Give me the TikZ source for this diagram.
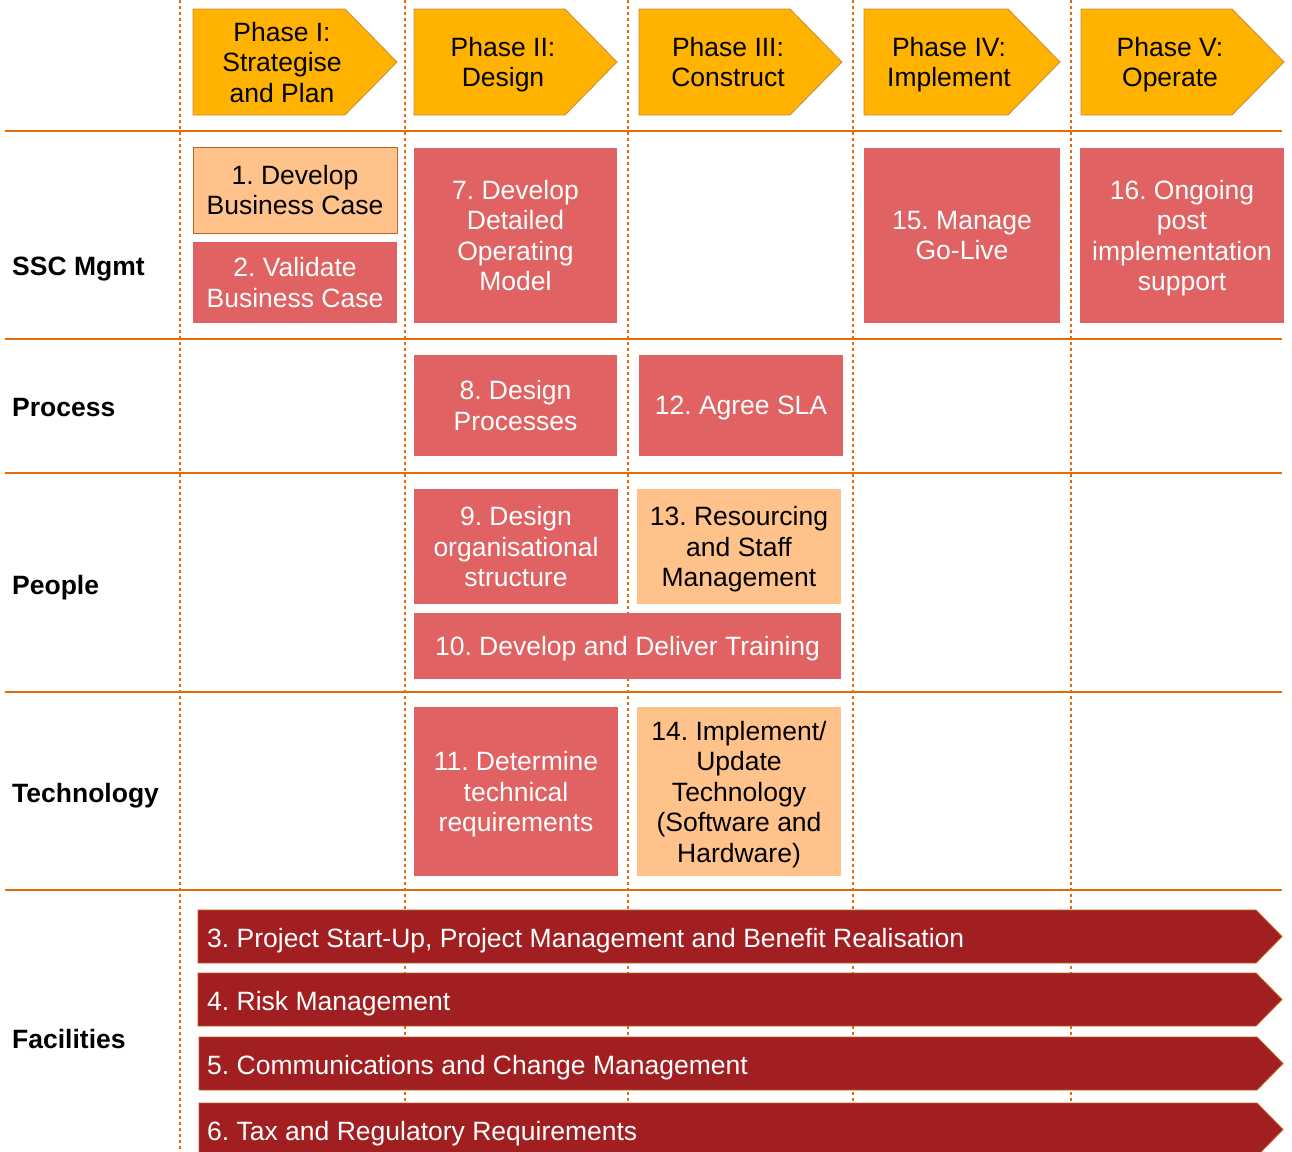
\documentclass[tikz,border=0pt]{standalone}
\usepackage{fontspec}
\setmainfont{Liberation Sans}
\frenchspacing

\definecolor{lineorange}{HTML}{E36C0A}
\definecolor{phasegold}{HTML}{FFB300}
\definecolor{phaseedge}{HTML}{C98A3A}
\definecolor{taskred}{HTML}{E06262}
\definecolor{tasklight}{HTML}{FFC28A}
\definecolor{lightedge}{HTML}{B8651E}
\definecolor{streamred}{HTML}{A11F21}
\definecolor{streamedge}{HTML}{C0601A}

\newcommand{\bodyfont}{\fontsize{26.5}{30.5}\selectfont}

\tikzset{
  grid line/.style={draw=lineorange, line width=2pt},
  phase line/.style={draw=lineorange, line width=2.5pt, dash pattern=on 3pt off 3pt},
  phase arrow/.style={fill=phasegold, draw=phaseedge, line width=0.8pt},
  phase text/.style={align=center, text=black, text depth=0pt, font=\bodyfont},
  task/.style={align=center, inner sep=0pt, text depth=0pt, font=\bodyfont, text=white, fill=taskred},
  subtask/.style={task, fill=tasklight, text=black},
  stream/.style={fill=streamred, draw=streamedge, line width=0.8pt},
  stream text/.style={anchor=west, inner sep=0pt, text depth=0pt, text=white, font=\bodyfont},
  row label/.style={anchor=west, inner sep=0pt, text depth=0pt, font=\bodyfont\bfseries},
}

\begin{document}
\begin{tikzpicture}[x=1pt, y=-1pt]
\useasboundingbox (0,0) rectangle (1292,1151);
\clip (0,0) rectangle (1292,1151);

% phase separators and row rules
\foreach \x in {180,405,628,853,1071}
  \draw[phase line] (\x,0) -- (\x,1151);
\foreach \y in {131,339,473,692,890}
  \draw[grid line] (5,\y) -- (1282,\y);

% phase headers
\draw[phase arrow] (193,9) -- (345,9) -- (397,62) -- (345,115) -- (193,115) -- cycle;
\node[phase text] (ph1) at (282,62) {Phase I:\\Strategise\\and Plan};
\draw[phase arrow] (414,9) -- (565,9) -- (617,62) -- (565,115) -- (414,115) -- cycle;
\node[phase text] (ph2) at (503,62) {Phase II:\\Design};
\draw[phase arrow] (639,9) -- (790,9) -- (842,62) -- (790,115) -- (639,115) -- cycle;
\node[phase text] (ph3) at (728,62) {Phase III:\\Construct};
\draw[phase arrow] (864,9) -- (1008,9) -- (1060,62) -- (1008,115) -- (864,115) -- cycle;
\node[phase text] (ph4) at (949,62) {Phase IV:\\Implement};
\draw[phase arrow] (1081,9) -- (1232,9) -- (1284,62) -- (1232,115) -- (1081,115) -- cycle;
\node[phase text] (ph5) at (1170,62) {Phase V:\\Operate};

% row labels
\node[row label] (ssc) at (12,266) {SSC Mgmt};
\node[row label] (process) at (12,407) {Process};
\node[row label] (people) at (12,585) {People};
\node[row label] (tech) at (12,793) {Technology};
\node[row label] (facilities) at (12,1039) {Facilities};

% SSC Mgmt
\node[subtask, draw=lightedge, line width=0.8pt, minimum width=204pt, minimum height=86pt] (t1) at (295,190) {1. Develop\\Business Case};
\node[task, minimum width=204pt, minimum height=81pt] (t2) at (295,282.5) {2. Validate\\Business Case};
\node[task, minimum width=203pt, minimum height=175pt] (t7) at (515.5,235.5) {7. Develop\\Detailed\\Operating\\Model};
\node[task, minimum width=196pt, minimum height=175pt] (t15) at (962,235.5) {15. Manage\\Go-Live};
\node[task, minimum width=204pt, minimum height=175pt] (t16) at (1182,235.5) {16. Ongoing\\post\\implementation\\support};

% Process
\node[task, minimum width=203pt, minimum height=101pt] (t8) at (515.5,405.5) {8. Design\\Processes};
\node[task, minimum width=204pt, minimum height=101pt] (t12) at (741,405.5) {12. Agree SLA};

% People
\node[task, minimum width=204pt, minimum height=115pt] (t9) at (516,546.5) {9. Design\\organisational\\structure};
\node[subtask, minimum width=204pt, minimum height=115pt] (t13) at (739,546.5) {13. Resourcing\\and Staff\\Management};
\node[task, minimum width=427pt, minimum height=66pt] (t10) at (627.5,646) {10. Develop and Deliver Training};

% Technology
\node[task, minimum width=204pt, minimum height=169pt] (t11) at (516,791.5) {11. Determine\\technical\\requirements};
\node[subtask, minimum width=204pt, minimum height=169pt] (t14) at (739,791.5) {14. Implement/\\Update\\Technology\\(Software and\\Hardware)};

% Facilities streams
\draw[stream] (198,910) -- (1256,910) -- (1282,936.5) -- (1256,963) -- (198,963) -- cycle;
\node[stream text] (s3) at (207,938) {3. Project Start-Up, Project Management and Benefit Realisation};
\draw[stream] (198,973) -- (1256,973) -- (1282,999.5) -- (1256,1026) -- (198,1026) -- cycle;
\node[stream text] (s4) at (207,1001) {4. Risk Management};
\draw[stream] (199,1037) -- (1257,1037) -- (1283,1063.5) -- (1257,1090) -- (199,1090) -- cycle;
\node[stream text] (s5) at (207,1065) {5. Communications and Change Management};
\draw[stream] (199,1103) -- (1257,1103) -- (1283,1129.5) -- (1257,1156) -- (199,1156) -- cycle;
\node[stream text] (s6) at (207,1131) {6. Tax and Regulatory Requirements};
\end{tikzpicture}
\end{document}
